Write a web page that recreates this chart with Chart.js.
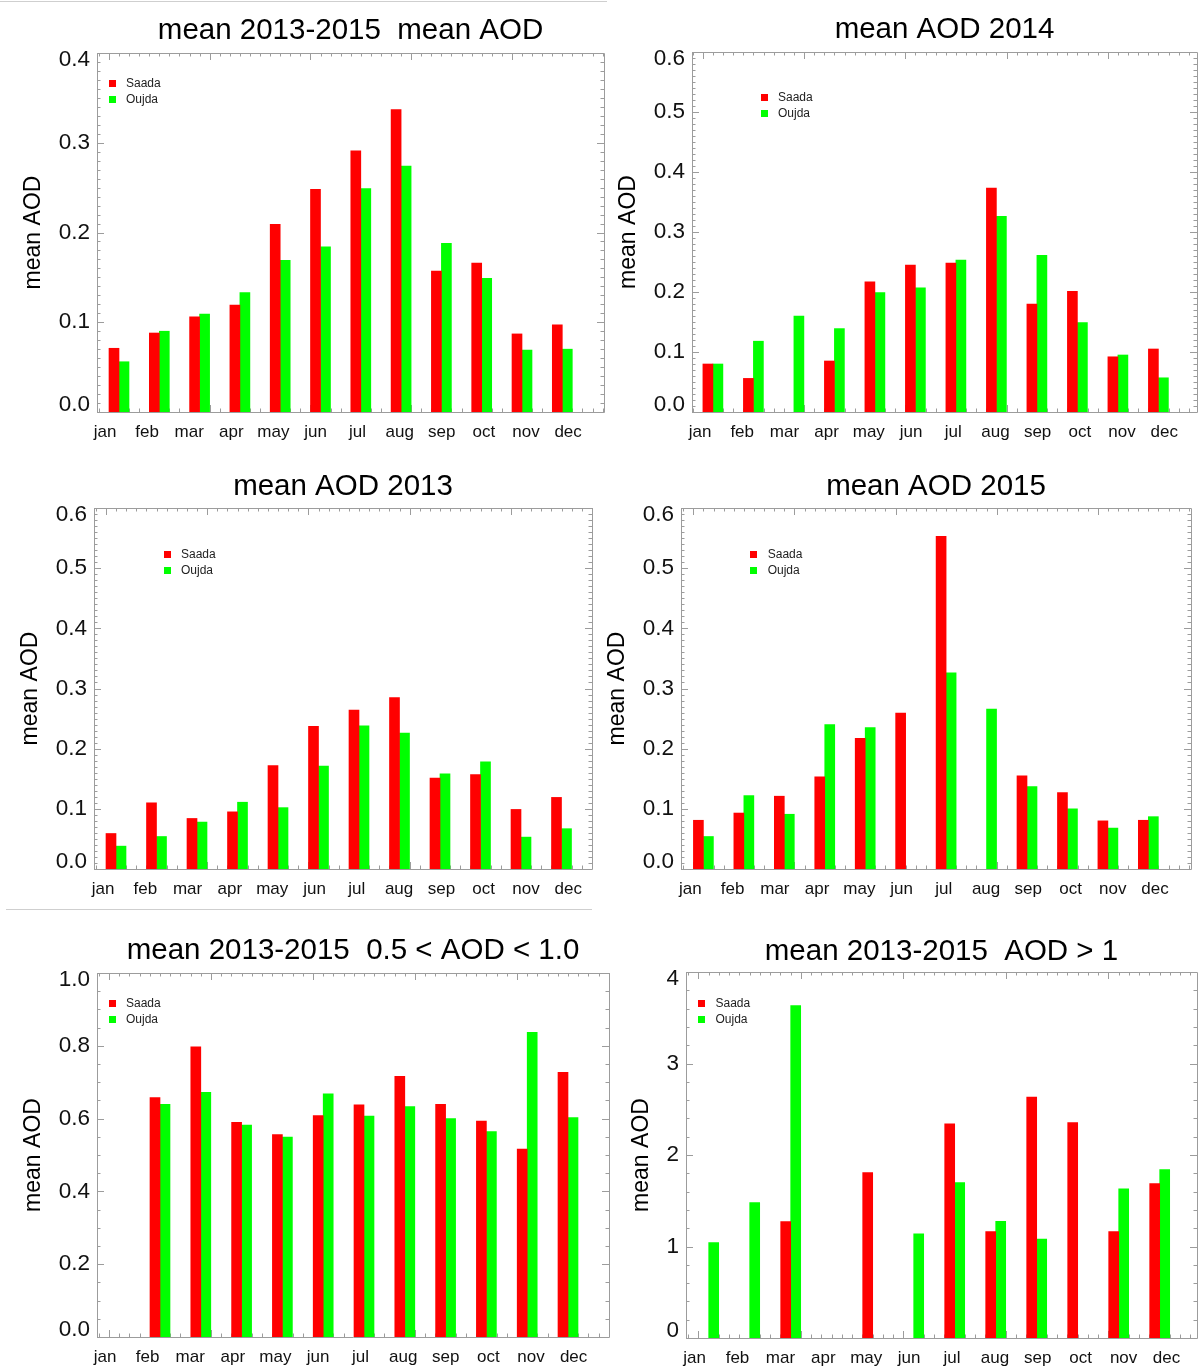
<!DOCTYPE html>
<html>
<head>
<meta charset="utf-8">
<title>mean AOD Saada / Oujda</title>
<script src="https://cdn.jsdelivr.net/npm/chart.js@4.4.1/dist/chart.umd.min.js"></script>
<style>
  html, body { margin: 0; padding: 0; background: #fff; }
  body { width: 1198px; height: 1371px; position: relative; overflow: hidden; }
  canvas { position: absolute; }
  .rule { position: absolute; height: 1px; background: #cfcfcf; }
</style>
</head>
<body>
<div class="rule" style="left:0;top:1px;width:607px"></div>
<div class="rule" style="left:6px;top:909px;width:586px"></div>
<script>
// months and their index on the bar axis
const months = ['jan', 'feb', 'mar', 'apr', 'may', 'jun', 'jul', 'aug', 'sep', 'oct', 'nov', 'dec'];
const monthNums = [1, 2, 3, 4, 5, 6, 7, 8, 9, 10, 11, 12];

// y tick labels
const yTicks04 = ['0.0', '0.1', '0.2', '0.3', '0.4'];
const yTicks06 = ['0.0', '0.1', '0.2', '0.3', '0.4', '0.5', '0.6'];
const yTicks10 = ['0.0', '0.2', '0.4', '0.6', '0.8', '1.0'];
const yTicks4 = ['0', '1', '2', '3', '4'];

// mean 2013-2015, mean AOD
const saadaMean = [0.071, 0.088, 0.106, 0.119, 0.209, 0.248, 0.291, 0.337, 0.157, 0.166, 0.087, 0.097];
const oujdaMean = [0.056, 0.090, 0.109, 0.133, 0.169, 0.184, 0.249, 0.274, 0.188, 0.149, 0.069, 0.070];

// 2014
const saada2014 = [0.080, 0.056, null, 0.085, 0.217, 0.245, 0.248, 0.373, 0.180, 0.201, 0.092, 0.105];
const oujda2014 = [0.080, 0.118, 0.160, 0.139, 0.199, 0.207, 0.253, 0.326, 0.261, 0.149, 0.095, 0.057];

// 2013
const saada2013 = [0.059, 0.110, 0.084, 0.095, 0.172, 0.237, 0.264, 0.285, 0.151, 0.157, 0.099, 0.119];
const oujda2013 = [0.038, 0.054, 0.078, 0.111, 0.102, 0.171, 0.238, 0.226, 0.158, 0.178, 0.053, 0.067];

// 2015
const saada2015 = [0.081, 0.093, 0.121, 0.153, 0.217, 0.259, 0.553, null, 0.155, 0.127, 0.080, 0.081];
const oujda2015 = [0.054, 0.122, 0.091, 0.240, 0.235, null, 0.326, 0.266, 0.137, 0.100, 0.068, 0.087];

// mean 2013-2015, 0.5 < AOD < 1.0
const saadaMid = [null, 0.658, 0.797, 0.590, 0.556, 0.608, 0.638, 0.716, 0.639, 0.593, 0.516, 0.727];
const oujdaMid = [null, 0.639, 0.672, 0.582, 0.549, 0.668, 0.607, 0.633, 0.600, 0.564, 0.837, 0.603];

// mean 2013-2015, AOD > 1
const saadaHigh = [null, null, 1.273, null, 1.807, null, 2.342, 1.164, 2.633, 2.353, 1.164, 1.687];
const oujdaHigh = [1.044, 1.48, 3.633, null, null, 1.138, 1.698, 1.276, 1.08, null, 1.629, 1.84];

const FONT = "'Liberation Sans', Arial, Helvetica, sans-serif";
const RED = '#ff0000';
const GREEN = '#00ff00';
const AXIS = '#9c9c9c';

// page layout of each panel: plot box [left, top, right, bottom],
// first bar/label pixel and spacing, legend offset inside the plot
const panels = [
  { title: 'mean 2013-2015  mean AOD', saada: saadaMean, oujda: oujdaMean, yLabels: yTicks04, yMinor: 0.01,
    box: [96.5, 52.7, 604, 411.7], bars: [119, 40.3], labs: [105, 42.1], legend: [15, 30.3], titleGap: 22.7, yTitlePad: 12.8 },
  { title: 'mean AOD 2014', saada: saada2014, oujda: oujda2014, yLabels: yTicks06, yMinor: 0.01,
    box: [691.5, 51.7, 1197, 411.5], bars: [712.9, 40.5], labs: [700, 42.2], legend: [72, 45], titleGap: 22.4, yTitlePad: 12.8 },
  { title: 'mean AOD 2013', saada: saada2013, oujda: oujda2013, yLabels: yTicks06, yMinor: 0.01,
    box: [94, 508.3, 592, 869.3], bars: [116, 40.5], labs: [103, 42.3], legend: [73, 46], titleGap: 21.6, yTitlePad: 12.8 },
  { title: 'mean AOD 2015', saada: saada2015, oujda: oujda2015, yLabels: yTicks06, yMinor: 0.01,
    box: [681.2, 508.3, 1191, 869.3], bars: [703.4, 40.45], labs: [690.4, 42.24], legend: [72.7, 46], titleGap: 21.6, yTitlePad: 12.8 },
  { title: 'mean 2013-2015  0.5 < AOD < 1.0', saada: saadaMid, oujda: oujdaMid, yLabels: yTicks10, yMinor: 0.05,
    box: [96.5, 972.7, 609, 1336.7], bars: [119.2, 40.8], labs: [105, 42.6], legend: [15, 30.6], titleGap: 22.7, yTitlePad: 12.8 },
  { title: 'mean 2013-2015  AOD > 1', saada: saadaHigh, oujda: oujdaHigh, yLabels: yTicks4, yMinor: 0.2,
    box: [685.8, 971.7, 1197, 1338.3], bars: [708.7, 41.0], labs: [694.6, 42.9], legend: [15.5, 31.6], titleGap: 20, yTitlePad: 32.2 }
];

// IDL style frame: box on all four sides with inward ticks
const idlFrame = {
  id: 'idlFrame',
  beforeDatasetsDraw(chart, args, opts) {
    const { ctx, chartArea: a } = chart;
    const xb = chart.scales.xb;
    const y = chart.scales.y;
    const px = v => Math.round(v) + 0.5;
    ctx.save();
    ctx.strokeStyle = AXIS;
    ctx.lineWidth = 1;
    ctx.beginPath();
    ctx.rect(px(a.left), px(a.top), Math.round(a.right) - Math.round(a.left), Math.round(a.bottom) - Math.round(a.top));
    for (let k = Math.ceil(xb.min * 4); k <= Math.floor(xb.max * 4); k++) {
      const v = k / 4;
      const q = (v - 0.75) / 2.5;
      const len = Math.abs(q - Math.round(q)) < 1e-6 ? 7 : 3.5;
      const x = px(xb.getPixelForValue(v));
      ctx.moveTo(x, a.bottom); ctx.lineTo(x, a.bottom - len);
      ctx.moveTo(x, a.top); ctx.lineTo(x, a.top + len);
    }
    const n = Math.round(y.max / opts.minor);
    for (let k = 0; k <= n; k++) {
      const v = k * opts.minor;
      const q = v / opts.major;
      const len = Math.abs(q - Math.round(q)) < 1e-6 ? 7 : 3.5;
      const yy = px(y.getPixelForValue(v));
      ctx.moveTo(a.left, yy); ctx.lineTo(a.left + len, yy);
      ctx.moveTo(a.right, yy); ctx.lineTo(a.right - len, yy);
    }
    ctx.stroke();
    ctx.restore();
  }
};

// small legend inside the plot
const idlLegend = {
  id: 'idlLegend',
  afterDatasetsDraw(chart, args, opts) {
    const { ctx, chartArea: a } = chart;
    ctx.save();
    ctx.font = '12px ' + FONT;
    ctx.textBaseline = 'middle';
    chart.data.datasets.forEach((ds, i) => {
      const cx = a.left + opts.x;
      const cy = a.top + opts.y + i * 16;
      ctx.fillStyle = ds.backgroundColor;
      ctx.fillRect(Math.round(cx - 3.5), Math.round(cy - 3.5), 7, 7);
      ctx.fillStyle = '#222';
      ctx.fillText(ds.label, cx + 14, cy + 0.5);
    });
    ctx.restore();
  }
};

function makePanel(p) {
  const [L, T, R, B] = p.box.map(Math.round);
  const yW = 90;
  const xH = 34;
  const titleSize = 29.5;
  const cLeft = L - yW;
  const cTop = Math.round(T - p.titleGap - titleSize / 2);
  const cRight = Math.min(R + 10, 1198);
  const cBottom = B + xH;
  const titlePadBottom = T - cTop - titleSize;

  const canvas = document.createElement('canvas');
  canvas.width = cRight - cLeft;
  canvas.height = cBottom - cTop;
  canvas.style.left = cLeft + 'px';
  canvas.style.top = cTop + 'px';
  document.body.appendChild(canvas);

  const xbMin = 1 - (p.bars[0] - L) / p.bars[1];
  const xbMax = xbMin + (R - L) / p.bars[1];
  const xlMin = 1 - (p.labs[0] - L) / p.labs[1];
  const xlMax = xlMin + (R - L) / p.labs[1];
  const yVals = p.yLabels.map(t => parseFloat(t));
  const last = yVals.length - 1;

  new Chart(canvas, {
    type: 'bar',
    data: {
      datasets: [
        {
          label: 'Saada',
          data: p.saada.map((v, i) => ({ x: monthNums[i], y: v })),
          backgroundColor: RED,
          barThickness: 10,
          xAxisID: 'xb',
          yAxisID: 'y'
        },
        {
          label: 'Oujda',
          data: p.oujda.map((v, i) => ({ x: monthNums[i], y: v })),
          backgroundColor: GREEN,
          barThickness: 10,
          xAxisID: 'xb',
          yAxisID: 'y'
        }
      ]
    },
    options: {
      responsive: false,
      animation: false,
      events: [],
      layout: { padding: { left: 0, top: 0, right: cRight - R, bottom: 0 } },
      plugins: {
        legend: { display: false },
        tooltip: { enabled: false },
        title: {
          display: true,
          text: p.title,
          fullSize: false,
          color: '#000',
          font: { family: FONT, size: titleSize, weight: 'normal', lineHeight: 1 },
          padding: { top: 0, bottom: titlePadBottom }
        },
        idlFrame: { minor: p.yMinor, major: yVals[1] },
        idlLegend: { x: p.legend[0], y: p.legend[1] }
      },
      scales: {
        xb: {
          type: 'linear',
          display: false,
          offset: false,
          min: xbMin,
          max: xbMax
        },
        x: {
          type: 'linear',
          position: 'bottom',
          offset: false,
          min: xlMin,
          max: xlMax,
          afterBuildTicks: s => { s.ticks = monthNums.map(v => ({ value: v })); },
          afterFit: s => { s.height = xH; },
          ticks: {
            autoSkip: false,
            maxRotation: 0,
            padding: 10,
            color: '#111',
            font: { family: FONT, size: 17 },
            callback: v => months[v - 1]
          },
          grid: { display: false, drawTicks: false },
          border: { display: false }
        },
        y: {
          type: 'linear',
          position: 'left',
          min: 0,
          max: yVals[last],
          afterBuildTicks: s => { s.ticks = yVals.map(v => ({ value: v })); },
          afterFit: s => { s.width = yW; },
          ticks: {
            padding: 7,
            color: '#111',
            font: ctx => ({
              family: FONT,
              size: 22.5,
              lineHeight: (ctx.index === 0 || ctx.index === last) ? 0.62 : 1.2
            }),
            // end labels sit inside the frame, like the original plot
            callback: (v, i) => i === 0 ? [p.yLabels[i], ''] : (i === last ? ['', p.yLabels[i]] : p.yLabels[i])
          },
          grid: { display: false, drawTicks: false },
          border: { display: false },
          title: {
            display: true,
            text: 'mean AOD',
            color: '#000',
            font: { family: FONT, size: 23 },
            padding: { top: p.yTitlePad, bottom: 0 }
          }
        }
      }
    },
    plugins: [idlFrame, idlLegend]
  });
}

panels.forEach(makePanel);
</script>
</body>
</html>
